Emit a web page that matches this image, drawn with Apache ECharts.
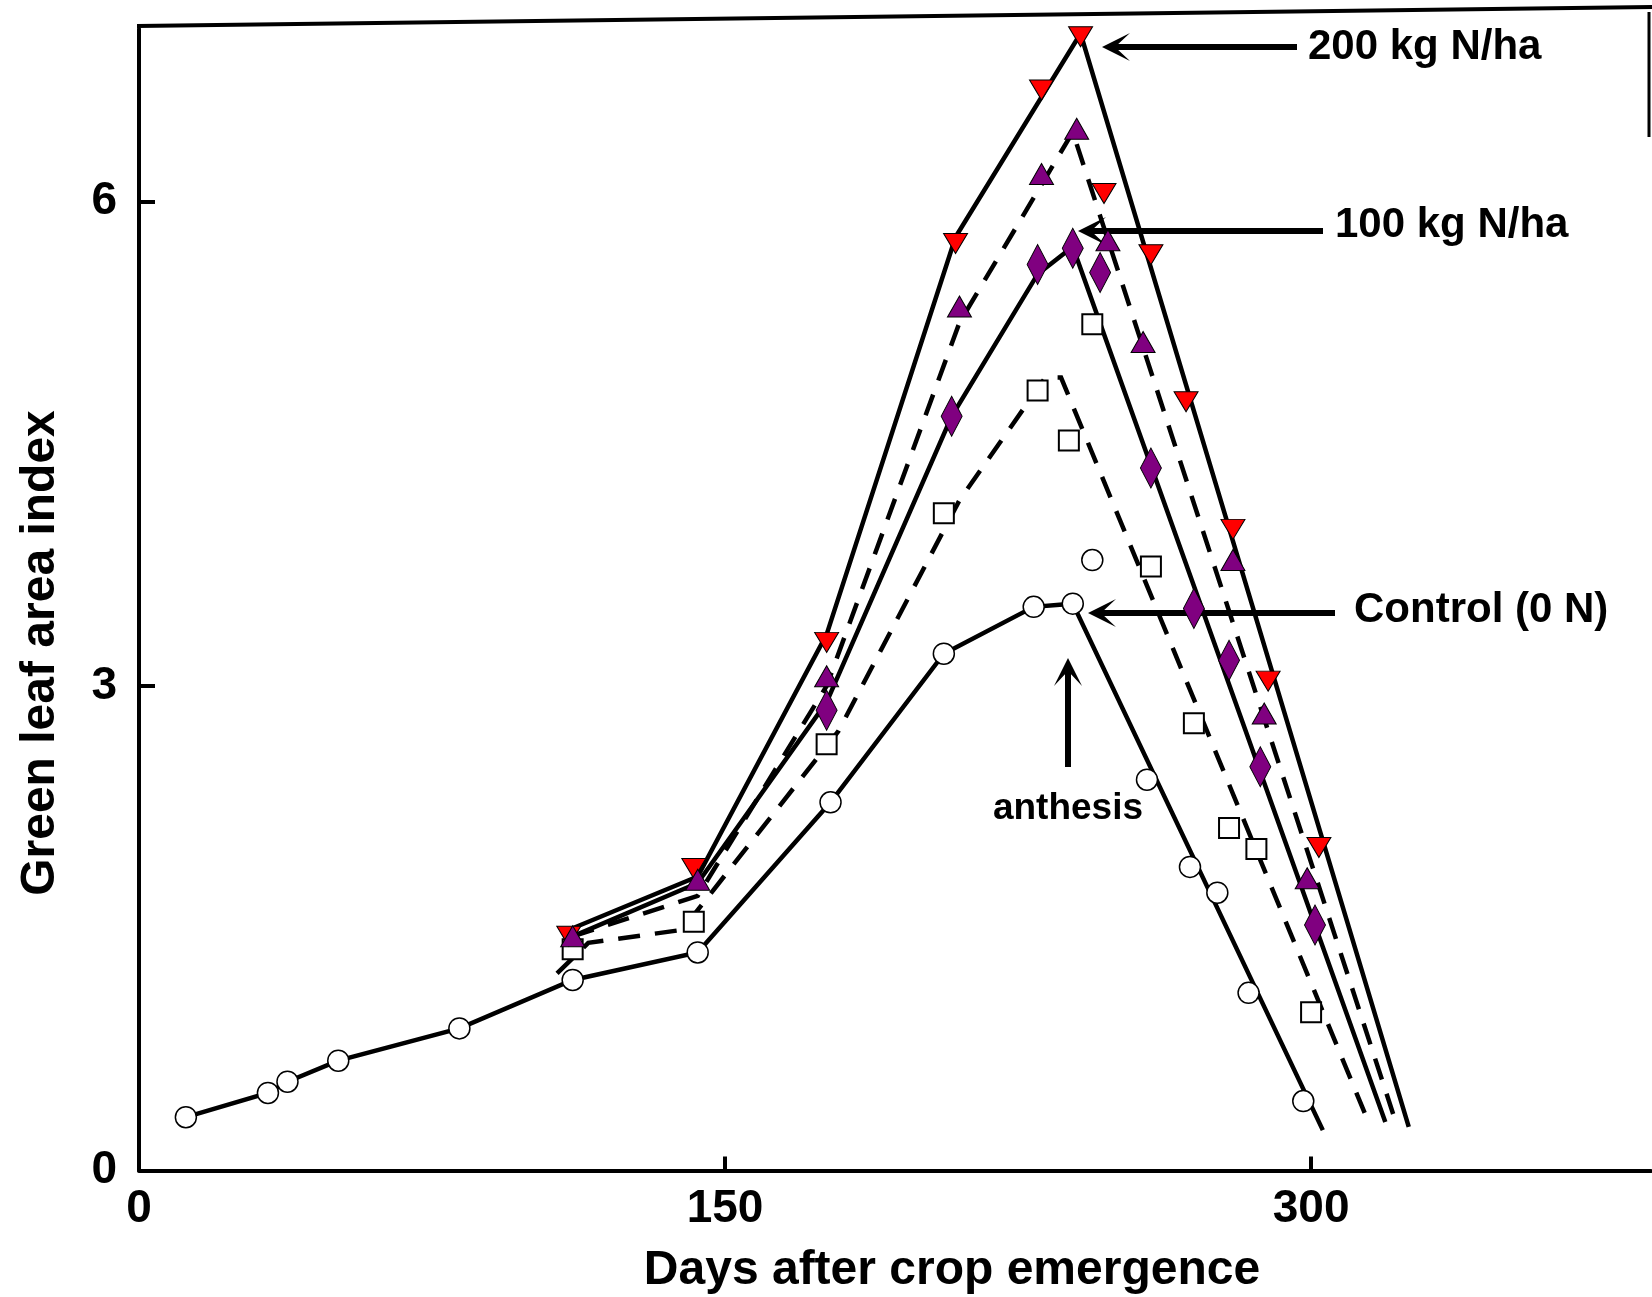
<!DOCTYPE html>
<html><head><meta charset="utf-8">
<script src="https://cdn.jsdelivr.net/npm/echarts@6/dist/echarts.min.js"></script>
<style>html,body{margin:0;padding:0;background:#fff}#c{width:1652px;height:1297px}</style>
</head><body><div id="c"></div>
<script>
// ---------- data ----------
// Control (0 N) – open circles, solid line
const ctrlDays = [12, 33, 38, 51, 82, 111, 143, 177, 206, 229, 239, 244, 258, 269, 276, 284, 298];
const ctrlLai  = [0.33, 0.48, 0.55, 0.68, 0.88, 1.18, 1.35, 2.28, 3.20, 3.49, 3.51, 3.78, 2.42, 1.88, 1.72, 1.10, 0.43];
const ctrlFitDays = [12, 33, 38, 51, 82, 111, 143, 177, 206, 229, 239, 303];
const ctrlFitLai  = [0.33, 0.48, 0.55, 0.68, 0.88, 1.18, 1.35, 2.28, 3.20, 3.49, 3.51, 0.25];

// 50 kg N/ha – open squares, dashed line
const n50Days = [111, 142, 176, 206, 230, 238, 244, 259, 270, 279, 286, 300];
const n50Lai  = [1.37, 1.54, 2.64, 4.07, 4.83, 4.52, 5.24, 3.74, 2.77, 2.12, 1.99, 0.98];
const n50FitDays = [107, 115, 139, 179, 210, 232, 236, 314];
const n50FitLai  = [1.22, 1.41, 1.49, 2.72, 4.15, 4.91, 4.91, 0.34];

// 100 kg N/ha – purple diamonds, solid line
const n100Days = [176, 208, 230, 239, 246, 259, 270, 279, 287, 301];
const n100Lai  = [2.85, 4.67, 5.61, 5.71, 5.56, 4.35, 3.48, 3.16, 2.50, 1.52];
const n100FitDays = [111, 143, 176, 208, 230, 239, 319];
const n100FitLai  = [1.45, 1.78, 2.90, 4.67, 5.55, 5.72, 0.30];

// 150 kg N/ha – purple triangles, dashed line
const n150Days = [111, 143, 176, 210, 231, 240, 248, 257, 280, 288, 299];
const n150Lai  = [1.45, 1.80, 3.06, 5.35, 6.17, 6.45, 5.76, 5.13, 3.78, 2.83, 1.81];
const n150FitDays = [111, 143, 176, 210, 239, 321];
const n150FitLai  = [1.45, 1.70, 3.00, 5.25, 6.43, 0.35];

// 200 kg N/ha – red inverted triangles, solid line
const n200Days = [110, 142, 176, 209, 231, 241, 247, 259, 268, 280, 289, 302];
const n200Lai  = [1.45, 1.87, 3.27, 5.74, 6.69, 7.02, 6.05, 5.67, 4.76, 3.97, 3.03, 2.00];
const n200FitDays = [111, 143, 176, 209, 241, 325];
const n200FitLai  = [1.50, 1.82, 3.32, 5.78, 7.04, 0.27];

const xTicks = [0, 150, 300];
const yTicks = [0, 3, 6];

// ---------- chart ----------
const FONT = '"Liberation Sans", Arial, Helvetica, sans-serif';
const pairs = (xs, ys) => xs.map((x, i) => [x, ys[i]]);

const fitLine = (name, xs, ys, dashed) => ({
  name: name + ' fit', type: 'line', data: pairs(xs, ys), showSymbol: false, symbol: 'none',
  silent: true, z: 2, animation: false,
  lineStyle: { color: '#000', width: 4.5, type: dashed ? [22, 15] : 'solid', cap: 'butt', join: 'miter' }
});
const obs = (name, xs, ys, symbol, size, fill, bw, rot) => ({
  name: name, type: 'scatter', data: pairs(xs, ys), symbol: symbol, symbolSize: size,
  symbolRotate: rot || 0, z: 3, animation: false,
  itemStyle: { color: fill, borderColor: '#000', borderWidth: bw, opacity: 1 }
});

function arrow(x1, y1, x2, y2) {
  const dx = x2 - x1, dy = y2 - y1, L = Math.hypot(dx, dy);
  const ux = dx / L, uy = dy / L, px = -uy, py = ux;
  const hl = 28, hw = 14, notch = 13;
  const bx = x2 - ux * hl, by = y2 - uy * hl;
  const nx = x2 - ux * notch, ny = y2 - uy * notch;
  return [
    { type: 'line', shape: { x1: x1, y1: y1, x2: nx, y2: ny }, style: { stroke: '#000', lineWidth: 6 } },
    { type: 'polygon', shape: { points: [[x2, y2], [bx + px * hw, by + py * hw], [nx, ny], [bx - px * hw, by - py * hw]] },
      style: { fill: '#000' } }
  ];
}
const label = (text, x, y, size, align) => ({
  type: 'text', x: x, y: y,
  style: { text: text, fill: '#000', font: 'bold ' + size + 'px ' + FONT, align: align || 'left', verticalAlign: 'middle' }
});

const chart = echarts.init(document.getElementById('c'), null, { renderer: 'canvas' });
chart.setOption({
  backgroundColor: '#fff',
  animation: false,
  grid: { left: 139, right: 1, top: 28.7, bottom: 126.5, containLabel: false, outerBoundsMode: 'none' },
  xAxis: {
    type: 'value', min: 0, max: 387, interval: 150,
    axisLine: { show: true, lineStyle: { color: '#000', width: 4 } },
    axisTick: { show: true, inside: true, length: 14, lineStyle: { color: '#000', width: 4 }, customValues: xTicks },
    axisLabel: { show: true, customValues: xTicks, color: '#000', fontFamily: FONT, fontWeight: 'bold', fontSize: 46, margin: 16 },
    splitLine: { show: false }
  },
  yAxis: {
    type: 'value', min: 0, max: 7.07, interval: 3,
    axisLine: { show: true, lineStyle: { color: '#000', width: 4 } },
    axisTick: { show: true, inside: true, length: 16, lineStyle: { color: '#000', width: 4 }, customValues: yTicks },
    axisLabel: { show: true, customValues: yTicks, color: '#000', fontFamily: FONT, fontWeight: 'bold', fontSize: 46, margin: 22 },
    splitLine: { show: false }
  },
  series: [
    fitLine('Control (0 N)', ctrlFitDays, ctrlFitLai, false),
    fitLine('50 kg N/ha', n50FitDays, n50FitLai, true),
    fitLine('100 kg N/ha', n100FitDays, n100FitLai, false),
    fitLine('150 kg N/ha', n150FitDays, n150FitLai, true),
    fitLine('200 kg N/ha', n200FitDays, n200FitLai, false),
    obs('Control (0 N)', ctrlDays, ctrlLai, 'circle', 21, '#fff', 1.5),
    obs('50 kg N/ha', n50Days, n50Lai, 'rect', 20, '#fff', 2),
    obs('200 kg N/ha', n200Days, n200Lai, 'triangle', [24, 20], '#ff0000', 1, 180),
    obs('100 kg N/ha', n100Days, n100Lai, 'diamond', [21, 40], '#800080', 1),
    obs('150 kg N/ha', n150Days, n150Lai, 'triangle', [24, 21], '#800080', 1)
  ],
  graphic: [].concat(
    [{ type: 'line', shape: { x1: 137, y1: 26, x2: 1652, y2: 7 }, style: { stroke: '#000', lineWidth: 4 } },
     { type: 'line', shape: { x1: 1649, y1: 12, x2: 1649, y2: 137 }, style: { stroke: '#000', lineWidth: 3 } }],
    arrow(1297, 47, 1102, 47),
    arrow(1323, 231, 1078, 231),
    arrow(1335, 613, 1088, 613),
    arrow(1068, 767, 1068, 658),
    [label('200 kg N/ha', 1308, 47, 42),
     label('100 kg N/ha', 1335, 225, 42),
     label('Control (0 N)', 1354, 610, 42),
     label('anthesis', 1068, 809, 37, 'center'),
     label('Days after crop emergence', 952, 1271, 48, 'center'),
     { type: 'text', x: 41, y: 653, rotation: Math.PI / 2,
       style: { text: 'Green leaf area index', fill: '#000', font: 'bold 48px ' + FONT, align: 'center', verticalAlign: 'middle' } }]
  )
});
</script>
</body></html>
